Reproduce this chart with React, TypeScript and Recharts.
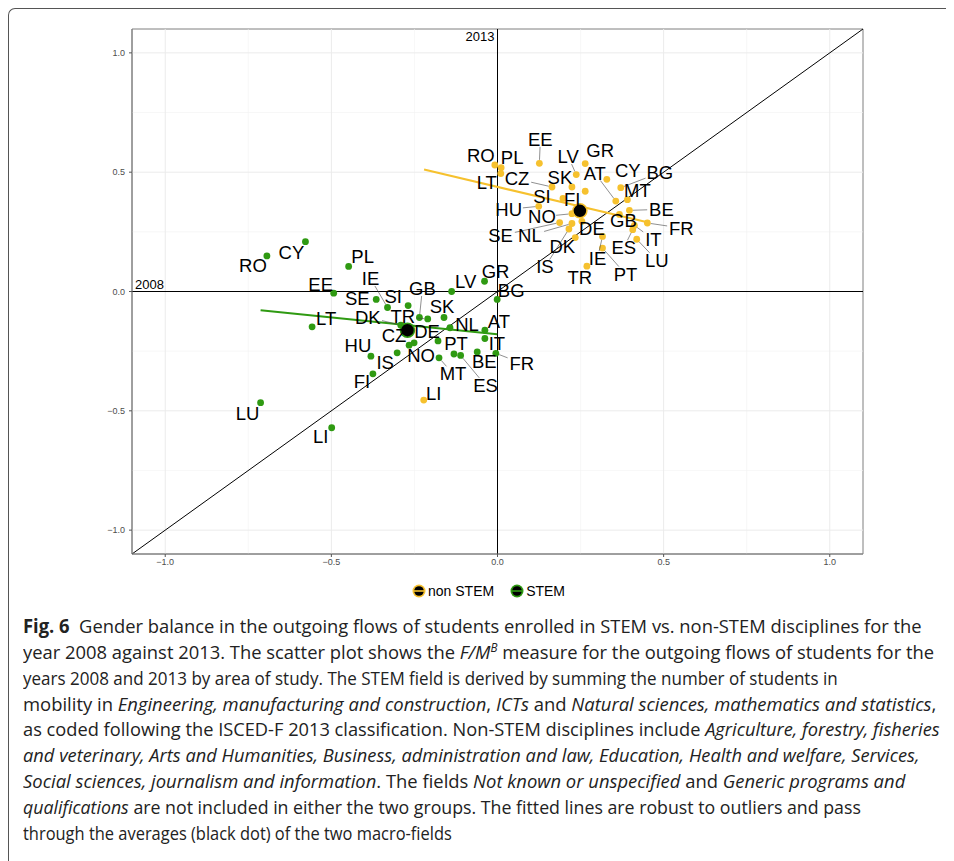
import React, { useLayoutEffect, useRef, useState } from 'react';
import { ScatterChart, Scatter, XAxis, YAxis, ReferenceLine, ReferenceArea } from 'recharts';

// F/M^B for 2008 (x) and 2013 (y), non STEM fields
const nonStemCountries = ['RO', 'PL', 'LT', 'EE', 'LV', 'GR', 'CZ', 'SK', 'AT', 'CY', 'BG', 'MT', 'SI', 'FI', 'HU', 'NO', 'SE', 'NL', 'DE', 'DK', 'IS', 'GB', 'BE', 'FR', 'IT', 'ES', 'LU', 'IE', 'PT', 'TR', 'LI'];
const nonStem2008 = [-0.008, 0.011, 0.01, 0.126, 0.237, 0.264, 0.164, 0.224, 0.356, 0.329, 0.371, 0.391, 0.197, 0.264, 0.124, 0.224, 0.187, 0.224, 0.254, 0.234, 0.215, 0.367, 0.397, 0.451, 0.412, 0.407, 0.419, 0.316, 0.316, 0.269, -0.222];
const nonStem2013 = [0.53, 0.519, 0.494, 0.537, 0.49, 0.536, 0.438, 0.438, 0.379, 0.47, 0.435, 0.385, 0.39, 0.42, 0.357, 0.326, 0.289, 0.285, 0.294, 0.226, 0.262, 0.323, 0.34, 0.287, 0.277, 0.259, 0.219, 0.231, 0.182, 0.106, -0.455];

// STEM fields
const stemCountries = ['RO', 'CY', 'PL', 'EE', 'IE', 'SE', 'SI', 'GB', 'SK', 'TR', 'LV', 'GR', 'BG', 'DK', 'LT', 'NL', 'AT', 'IT', 'CZ', 'DE', 'HU', 'PT', 'NO', 'IS', 'BE', 'MT', 'ES', 'FR', 'FI', 'LU', 'LI'];
const stem2008 = [-0.694, -0.578, -0.448, -0.493, -0.331, -0.365, -0.269, -0.235, -0.161, -0.21, -0.138, -0.039, -0.001, -0.291, -0.558, -0.143, -0.038, -0.038, -0.251, -0.179, -0.381, -0.131, -0.266, -0.302, -0.061, -0.176, -0.111, -0.005, -0.375, -0.713, -0.499];
const stem2013 = [0.149, 0.209, 0.105, -0.007, -0.067, -0.033, -0.059, -0.109, -0.109, -0.115, 0.0, 0.043, -0.033, -0.141, -0.148, -0.152, -0.162, -0.197, -0.215, -0.207, -0.271, -0.262, -0.225, -0.257, -0.253, -0.278, -0.268, -0.259, -0.345, -0.466, -0.571];

// robust fitted lines (ends) and group averages
const nonStemFit2008 = [-0.221, 0.451];
const nonStemFit2013 = [0.511, 0.29];
const stemFit2008 = [-0.713, -0.001];
const stemFit2013 = [-0.079, -0.179];
const nonStemMean = [0.248, 0.338];
const stemMean = [-0.271, -0.162];

const axisRange = [-1.1, 1.1];
const majorTicks = [-1, -0.5, 0, 0.5, 1];
const minorTicks = [-0.75, -0.25, 0.25, 0.75];

const NON_STEM = '#F6C12E';
const STEM = '#2F9A12';
const SANS = "'Liberation Sans', Arial, sans-serif";

// label offsets from the dot, in px (repel layout)
const nonStemLabelPos: Record<string, [number, number]> = {
  RO: [-14, -10], PL: [11, -10], LT: [-14, 9], EE: [1, -24], LV: [-8, -18], GR: [15, -13],
  CZ: [-35, -8], SK: [-12, -9], AT: [-21, -28], CY: [21, -9], BG: [39, -15], MT: [10, -9],
  SI: [-21, -2], FI: [-13, 8], HU: [-30, 3], NO: [-30, 3], SE: [-59, 13], NL: [-42, 12],
  DE: [10, 7], DK: [-13, 9], IS: [-24, 38], GB: [4, 6], BE: [32, -1], FR: [34, 5],
  IT: [19, 14], ES: [-9, 18], LU: [20, 21], IE: [-5, 22], PT: [23, 26], TR: [-7, 11], LI: [10, -7],
};
const stemLabelPos: Record<string, [number, number]> = {
  RO: [-14, 10], CY: [-14, 11], PL: [14, -10], EE: [-13, -9], IE: [-17, -29], SE: [-19, -1],
  SI: [-15, -9], GB: [3, -29], SK: [-2, -11], TR: [-25, -2], LV: [14, -10], GR: [11, -10],
  BG: [14, -9], DK: [-33, -8], LT: [14, -8], NL: [17, -3], AT: [14, -9], IT: [12, 5],
  CZ: [-20, -7], DE: [-11, -9], HU: [-13, -11], PT: [2, -11], NO: [12, 10], IS: [-12, 10],
  BE: [7, 10], MT: [14, 16], ES: [25, 30], FR: [26, 10], FI: [-11, 8], LU: [-13, 11], LI: [-11, 9],
};

const toPoints = (names: string[], xs: number[], ys: number[]) =>
  names.map((name, i) => ({ name, x: xs[i], y: ys[i] }));

const nonStemData = toPoints(nonStemCountries, nonStem2008, nonStem2013);
const stemData = toPoints(stemCountries, stem2008, stem2013);
const nonStemFit = nonStemFit2008.map((x, i) => ({ x, y: nonStemFit2013[i] }));
const stemFit = stemFit2008.map((x, i) => ({ x, y: stemFit2013[i] }));

const fmt = (v: number) => (v < 0 ? '\u2212' + Math.abs(v).toFixed(1) : v.toFixed(1));

const dot = (color: string) => (props: any) => (
  <circle cx={props.cx} cy={props.cy} r={3.4} fill={color} />
);

const meanDot = (color: string) => (props: any) => (
  <circle cx={props.cx} cy={props.cy} r={7} fill="#000" stroke={color} strokeWidth={1.5} />
);

const noDot = () => <g />;

const labelShape = (pos: Record<string, [number, number]>) => (props: any) => {
  const { cx, cy, payload } = props;
  const [dx, dy] = pos[payload.name] || [0, -12];
  const lx = cx + dx;
  const ly = cy + dy;
  const hw = payload.name.length * 6.6 + 1;
  const hh = 7.5;
  let seg = null;
  const t = Math.min(dx ? hw / Math.abs(dx) : Infinity, dy ? hh / Math.abs(dy) : Infinity);
  if (t < 1) {
    const sx = lx - dx * t;
    const sy = ly - dy * t;
    const gap = Math.hypot(sx - cx, sy - cy);
    if (gap > 10) {
      const len = Math.hypot(dx, dy);
      seg = (
        <line x1={sx} y1={sy} x2={cx + (dx / len) * 3.5} y2={cy + (dy / len) * 3.5} stroke="#444" strokeWidth={0.6} />
      );
    }
  }
  return (
    <g>
      {seg}
      <text x={lx} y={ly} textAnchor="middle" dominantBaseline="central" fontSize={18.5} fontFamily={SANS} fill="#000">
        {payload.name}
      </text>
    </g>
  );
};

const LegendIcon = ({ color }: { color: string }) => (
  <svg width={14} height={14} style={{ display: 'block' }}>
    <circle cx={7} cy={7} r={6.5} fill={color} />
    <circle cx={7} cy={7} r={4.8} fill="#000" />
    <line x1={1} x2={13} y1={7} y2={7} stroke={color} strokeWidth={1.6} />
  </svg>
);

type Part = [string, string?];
const captionLines: { width: number; parts: Part[] }[] = [
  { width: 899, parts: [['Fig. 6', 'b'], ['  Gender balance in the outgoing flows of students enrolled in STEM vs. non-STEM disciplines for the']] },
  { width: 911, parts: [['year 2008 against 2013. The scatter plot shows the '], ['F/M', 'i'], ['B', 's'], [' measure for the outgoing flows of students for the']] },
  { width: 815, parts: [['years 2008 and 2013 by area of study. The STEM field is derived by summing the number of students in']] },
  { width: 913, parts: [['mobility in '], ['Engineering, manufacturing and construction', 'i'], [', '], ['ICTs', 'i'], [' and '], ['Natural sciences, mathematics and statistics', 'i'], [',']] },
  { width: 917, parts: [['as coded following the ISCED-F 2013 classification. Non-STEM disciplines include '], ['Agriculture, forestry, fisheries', 'i']] },
  { width: 897, parts: [['and veterinary, Arts and Humanities, Business, administration and law, Education, Health and welfare, Services,', 'i']] },
  { width: 882, parts: [['Social sciences, journalism and information', 'i'], ['. The fields '], ['Not known or unspecified', 'i'], [' and '], ['Generic programs and', 'i']] },
  { width: 838, parts: [['qualifications', 'i'], [' are not included in either the two groups. The fitted lines are robust to outliers and pass']] },
  { width: 429, parts: [['through the averages (black dot) of the two macro-fields']] },
];

// each caption line is squeezed horizontally to the width it has in the figure
const CaptionLine = ({ parts, width, top }: { parts: Part[]; width: number; top: number }) => {
  const ref = useRef<HTMLDivElement>(null);
  const [scale, setScale] = useState(1);
  useLayoutEffect(() => {
    if (ref.current) setScale(width / ref.current.offsetWidth);
  }, [width]);
  return (
    <div
      ref={ref}
      style={{
        position: 'absolute',
        left: 15,
        top,
        whiteSpace: 'pre',
        fontFamily: "'Open Sans', 'Noto Sans', sans-serif",
        fontSize: 19,
        lineHeight: '25.8px',
        color: '#222',
        transform: `scaleX(${scale})`,
        transformOrigin: '0 0',
      }}
    >
      {parts.map(([txt, kind], j) => {
        if (kind === 'b') return <b key={j}>{txt}</b>;
        if (kind === 'i') return <i key={j}>{txt}</i>;
        if (kind === 's')
          return (
            <i key={j} style={{ fontSize: 12, verticalAlign: 'top', lineHeight: '16px' }}>
              {txt}
            </i>
          );
        return <span key={j}>{txt}</span>;
      })}
    </div>
  );
};

const tickStyle = { fontSize: 9, fill: '#4d4d4d', fontFamily: SANS };

export default function App() {
  return (
    <div style={{ position: 'relative', width: 946, height: 853 }}>
      <div
        style={{
          position: 'absolute',
          left: 0,
          top: 0,
          width: 946,
          height: 853,
          borderTop: '1.5px solid #555',
          borderLeft: '1.5px solid #555',
          borderTopLeftRadius: 7,
          boxSizing: 'border-box',
        }}
      />
      <div style={{ position: 'absolute', left: -8, top: -8 }}>
        <ScatterChart width={954} height={600} margin={{ top: 29, right: 91, bottom: 26, left: 102 }}>
          {minorTicks.map((v) => (
            <ReferenceLine key={'mx' + v} x={v} stroke="#f2f2f2" strokeWidth={0.6} />
          ))}
          {minorTicks.map((v) => (
            <ReferenceLine key={'my' + v} y={v} stroke="#f2f2f2" strokeWidth={0.6} />
          ))}
          {majorTicks.map((v) => (
            <ReferenceLine key={'Mx' + v} x={v} stroke="#ebebeb" strokeWidth={1} />
          ))}
          {majorTicks.map((v) => (
            <ReferenceLine key={'My' + v} y={v} stroke="#ebebeb" strokeWidth={1} />
          ))}
          <XAxis
            type="number"
            dataKey="x"
            domain={axisRange}
            ticks={majorTicks}
            tickFormatter={fmt}
            allowDataOverflow
            height={20}
            tickSize={3}
            tickMargin={2}
            tick={tickStyle}
            axisLine={{ stroke: '#7f7f7f' }}
            tickLine={{ stroke: '#555' }}
          />
          <YAxis
            type="number"
            dataKey="y"
            domain={axisRange}
            ticks={majorTicks}
            tickFormatter={fmt}
            allowDataOverflow
            width={30}
            tickSize={3}
            tickMargin={4}
            tick={tickStyle}
            axisLine={{ stroke: '#7f7f7f' }}
            tickLine={{ stroke: '#555' }}
          />
          <ReferenceArea
            x1={axisRange[0]}
            x2={axisRange[1]}
            y1={axisRange[0]}
            y2={axisRange[1]}
            fill="none"
            stroke="#7f7f7f"
            strokeWidth={1}
          />
          <ReferenceLine
            y={0}
            stroke="#000"
            strokeWidth={1}
            label={{ value: '2008', position: 'insideBottomLeft', offset: 3, fontSize: 13, fill: '#000', fontFamily: SANS }}
          />
          <ReferenceLine
            x={0}
            stroke="#000"
            strokeWidth={1}
            label={{ value: '2013', position: 'insideTopRight', offset: 3, fontSize: 13, fill: '#000', fontFamily: SANS }}
          />
          <ReferenceLine
            segment={[
              { x: axisRange[0], y: axisRange[0] },
              { x: axisRange[1], y: axisRange[1] },
            ]}
            stroke="#000"
            strokeWidth={1}
          />
          <Scatter data={stemData} shape={dot(STEM)} isAnimationActive={false} />
          <Scatter data={nonStemData} shape={dot(NON_STEM)} isAnimationActive={false} />
          <Scatter data={nonStemFit} line={{ stroke: NON_STEM, strokeWidth: 2 }} shape={noDot} isAnimationActive={false} />
          <Scatter data={stemFit} line={{ stroke: STEM, strokeWidth: 2 }} shape={noDot} isAnimationActive={false} />
          <Scatter data={[{ x: nonStemMean[0], y: nonStemMean[1] }]} shape={meanDot(NON_STEM)} isAnimationActive={false} />
          <Scatter data={[{ x: stemMean[0], y: stemMean[1] }]} shape={meanDot(STEM)} isAnimationActive={false} />
          <Scatter data={stemData} shape={labelShape(stemLabelPos)} isAnimationActive={false} />
          <Scatter data={nonStemData} shape={labelShape(nonStemLabelPos)} isAnimationActive={false} />
        </ScatterChart>
      </div>
      <div
        style={{
          position: 'absolute',
          left: 404,
          top: 575,
          display: 'flex',
          alignItems: 'center',
          fontFamily: SANS,
          fontSize: 14,
          color: '#000',
        }}
      >
        <LegendIcon color={NON_STEM} />
        <span style={{ marginLeft: 2 }}>non STEM</span>
        <span style={{ width: 16 }} />
        <LegendIcon color={STEM} />
        <span style={{ marginLeft: 2 }}>STEM</span>
      </div>
      {captionLines.map((line, i) => (
        <CaptionLine key={i} parts={line.parts} width={line.width} top={606.1 + i * 25.8} />
      ))}
    </div>
  );
}
